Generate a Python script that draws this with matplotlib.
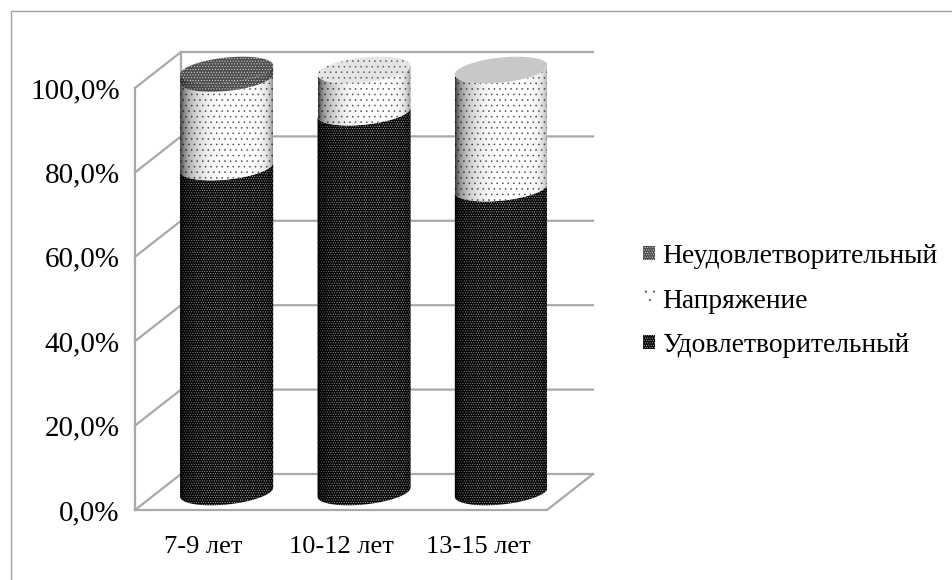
import matplotlib
matplotlib.use('Agg')
import matplotlib.pyplot as plt
from matplotlib.lines import Line2D
from matplotlib.patches import Patch, Polygon
import numpy as np

plt.rcParams['font.family'] = ['Liberation Serif', 'DejaVu Serif']
plt.rcParams['hatch.linewidth'] = 0.35

# данные
groups = ['7-9 лет', '10-12 лет', '13-15 лет']
satisfactory = [77.0, 90.0, 72.0]
tension = [21.0, 10.0, 28.0]
unsatisfactory = [2.0, 0.0, 0.0]
y_ticks = [0, 20, 40, 60, 80, 100]
y_labels = ['0,0%', '20,0%', '40,0%', '60,0%', '80,0%', '100,0%']
names = ['Удовлетворительный', 'Напряжение', 'Неудовлетворительный']

W, H = 952, 580
px_x = 412 / 3      # пикселей на категорию
px_y = 4.22         # пикселей на процент
depth_x = 46 / px_x
depth_y = 36 / px_y
half_w = 46.5 / px_x
tilt = 4.5 / px_y
minor = 12.5 / px_y
grid_c = '#a9a9a9'
y_min = -5
y_max = 120

fig = plt.figure(figsize=(W / 100, H / 100), dpi=100)

# рамка только слева и сверху
fig.add_artist(Line2D([10.5 / W, 10.5 / W, 1], [0, 1 - 10.5 / H, 1 - 10.5 / H],
                      color='#a0a0a0', lw=1.0, transform=fig.transFigure))

# оси шире стенок, чтобы заливка крышек не обрезалась
ax = fig.add_axes([135 / W, 1 - (510 - y_min * px_y) / H, 412 / W, (y_max - y_min) * px_y / H])
ax.set_xlim(-0.5, 2.5)
ax.set_ylim(y_min, y_max)
for s in ax.spines.values():
    s.set_visible(False)
ax.patch.set_visible(False)
ax.set_xticks(range(3))
ax.set_xticklabels(groups, fontsize=19)
ax.set_yticks(y_ticks)
ax.set_yticklabels(y_labels, fontsize=21)
ax.tick_params(length=0)
ax.tick_params(axis='y', pad=11)
ax.tick_params(axis='x', pad=3.5)

# стенки и пол
x0 = -0.5
x1 = 2.5
lw = 1.6
for v in y_ticks:
    ax.plot([x0, x0 + depth_x, x1 + depth_x], [v, v + depth_y, v + depth_y],
            color=grid_c, lw=lw, clip_on=False, zorder=1)
ax.plot([x0, x0], [0, 100], color=grid_c, lw=lw, clip_on=False, zorder=1)
ax.plot([x0 + depth_x, x0 + depth_x], [depth_y, 100 + depth_y], color=grid_c, lw=lw, clip_on=False, zorder=1)
ax.plot([x0, x1, x1 + depth_x], [0, 0, depth_y], color=grid_c, lw=lw, clip_on=False, zorder=1)

t = np.linspace(0, -np.pi, 60)


def front_edge(cx, v):
    return (cx + half_w * np.cos(t),
            v + depth_y / 2 + tilt * np.cos(t) + minor * np.sin(t))


def shade(poly, cx, z, strength):
    # затемнение по краям цилиндра
    u = np.linspace(-1, 1, 200)
    a = strength * (np.abs((u - 0.2) / 1.2) ** 3 + 0.6 * np.abs(u) ** 14)
    img = np.zeros((1, 200, 4))
    img[0, :, 3] = np.clip(a, 0, 1)
    im = ax.imshow(img, extent=[cx - half_w, cx + half_w, y_min, y_max], aspect='auto',
                   zorder=z, interpolation='bilinear')
    im.set_clip_path(poly)


def draw_segment(cx, v0, v1, face, dots, hatch, z, strength):
    xa, ya = front_edge(cx, v0)
    xb, yb = front_edge(cx, v1)
    pts = np.r_[np.c_[xa, ya], np.c_[xb[::-1], yb[::-1]]]
    p = Polygon(pts, closed=True, facecolor=face, edgecolor=dots, hatch=hatch,
                linewidth=0, zorder=z)
    ax.add_patch(p)
    shade(p, cx, z + 0.1, strength)


def draw_cap(cx, v, face, dots, hatch, z):
    tt = np.linspace(0, 2 * np.pi, 120)
    pts = np.c_[cx + half_w * np.cos(tt),
                v + depth_y / 2 + tilt * np.cos(tt) + minor * np.sin(tt)]
    ax.add_patch(Polygon(pts, closed=True, facecolor=face, edgecolor=dots, hatch=hatch,
                         linewidth=0, zorder=z))


dark = ('#0a0a0a', '#c8c8c8', '.......')
light = ('#ffffff', '#444444', '...')
mid = ('#505050', '#e8e8e8', '......')

for i in range(3):
    cx = i + depth_x / 2
    a = satisfactory[i]
    b = a + tension[i]
    c = b + unsatisfactory[i]
    draw_segment(cx, 0, a, *dark, 3, 0.5)
    draw_segment(cx, a, b, *light, 4, 0.5)
    if unsatisfactory[i] > 0:
        draw_segment(cx, b, c, *mid, 5, 0.3)
        draw_cap(cx, c, *mid, 6)
    elif i == 2:
        draw_cap(cx, c, '#c8c8c8', '#c8c8c8', None, 6)
    else:
        draw_cap(cx, c, '#e4e4e4', '#555555', '...', 6)

ax.set_xlim(-0.5, 2.5)
ax.set_ylim(y_min, y_max)

handles = [Patch(facecolor=mid[0], edgecolor=mid[1], hatch='.......', linewidth=0),
           Patch(facecolor='white', edgecolor='#555555', hatch='..', linewidth=0),
           Patch(facecolor=dark[0], edgecolor=dark[1], hatch='.......', linewidth=0)]
fig.legend(handles, names[::-1], loc='center left', bbox_to_anchor=(643 / W, 1 - 301 / H),
           frameon=False, fontsize=19.8, handlelength=0.43, handleheight=0.43,
           handletextpad=0.25, labelspacing=0.71, borderpad=0, borderaxespad=0)

plt.savefig('out.png', dpi=100)
